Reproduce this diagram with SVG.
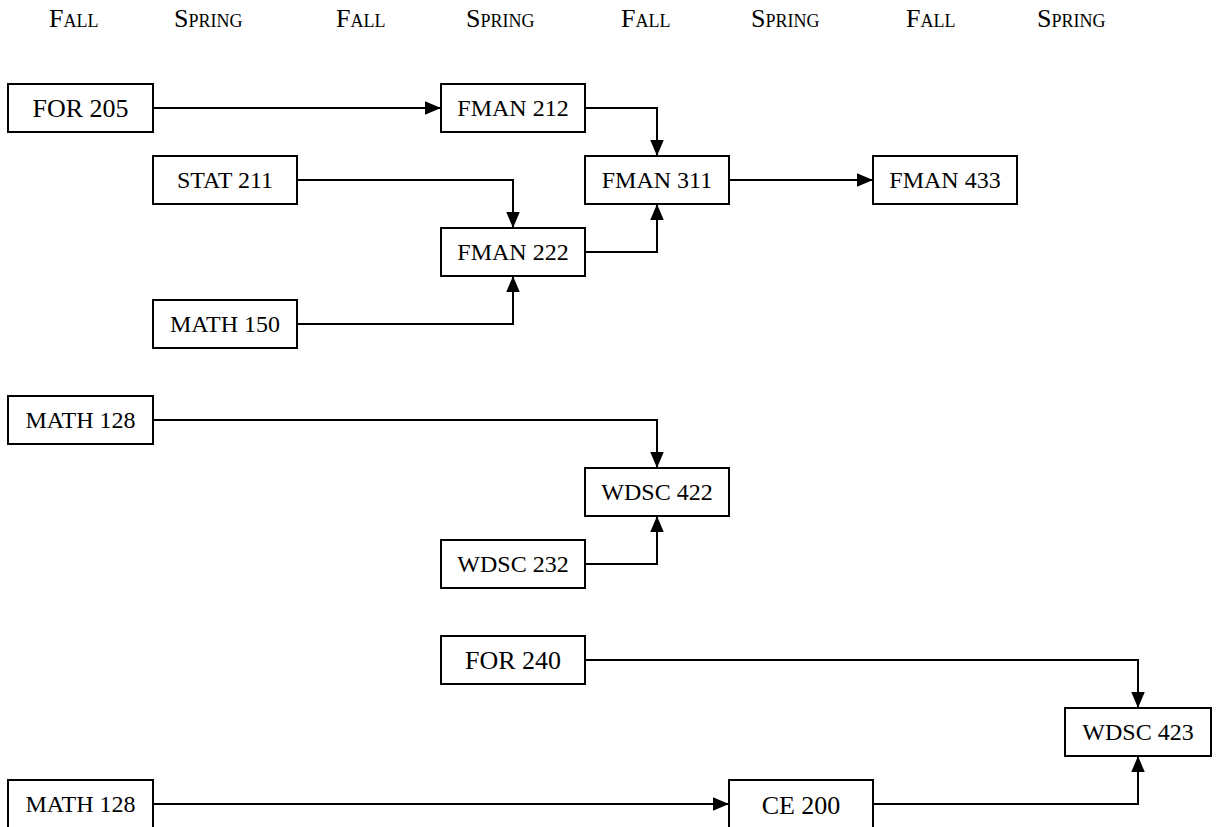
<svg xmlns="http://www.w3.org/2000/svg" width="1217" height="827" viewBox="0 0 1217 827">
<defs>
<style>
.hdr{font-family:"Liberation Serif","Times New Roman",serif;font-size:26px;font-variant:small-caps;fill:#000}
.box{fill:#fff;stroke:#000;stroke-width:2}
.lbl{font-family:"Liberation Serif","Times New Roman",serif;font-size:24px;fill:#000;text-anchor:middle}
.big{font-size:26px}
.con{fill:none;stroke:#000;stroke-width:2;marker-end:url(#ah)}
</style>
<marker id="ah" markerUnits="userSpaceOnUse" markerWidth="16" markerHeight="14" refX="16" refY="6.75" orient="auto">
<path d="M0,0 L16,6.75 L0,13.5 z" fill="#000"/>
</marker>
</defs>
<rect width="1217" height="827" fill="#fff"/>
<g id="headers">
<text class="hdr" x="49" y="27">Fall</text>
<text class="hdr" x="174" y="27">Spring</text>
<text class="hdr" x="336" y="27">Fall</text>
<text class="hdr" x="466" y="27">Spring</text>
<text class="hdr" x="621" y="27">Fall</text>
<text class="hdr" x="751" y="27">Spring</text>
<text class="hdr" x="906" y="27">Fall</text>
<text class="hdr" x="1037" y="27">Spring</text>
</g>
<g id="connectors">
<path class="con" d="M153,108 H441"/>
<path class="con" d="M585,108 H657 V156"/>
<path class="con" d="M297,180 H513 V228"/>
<path class="con" d="M585,252 H657 V204"/>
<path class="con" d="M297,324 H513 V276"/>
<path class="con" d="M729,180 H873"/>
<path class="con" d="M153,420 H657 V468"/>
<path class="con" d="M585,564 H657 V516"/>
<path class="con" d="M585,660 H1138 V708"/>
<path class="con" d="M153,804 H729"/>
<path class="con" d="M873,804 H1138 V756"/>
</g>
<g id="for205"><rect class="box" x="8" y="84" width="145" height="48"/><text class="lbl big" x="80.5" y="117">FOR 205</text></g>
<g id="fman212"><rect class="box" x="441" y="84" width="144" height="48"/><text class="lbl" x="513" y="116">FMAN 212</text></g>
<g id="stat211"><rect class="box" x="153" y="156" width="144" height="48"/><text class="lbl" x="225" y="188">STAT 211</text></g>
<g id="fman311"><rect class="box" x="585" y="156" width="144" height="48"/><text class="lbl" x="657" y="188">FMAN 311</text></g>
<g id="fman433"><rect class="box" x="873" y="156" width="144" height="48"/><text class="lbl" x="945" y="188">FMAN 433</text></g>
<g id="fman222"><rect class="box" x="441" y="228" width="144" height="48"/><text class="lbl" x="513" y="260">FMAN 222</text></g>
<g id="math150"><rect class="box" x="153" y="300" width="144" height="48"/><text class="lbl" x="225" y="332">MATH 150</text></g>
<g id="math128a"><rect class="box" x="8" y="396" width="145" height="48"/><text class="lbl" x="80.5" y="428">MATH 128</text></g>
<g id="wdsc422"><rect class="box" x="585" y="468" width="144" height="48"/><text class="lbl" x="657" y="500">WDSC 422</text></g>
<g id="wdsc232"><rect class="box" x="441" y="540" width="144" height="48"/><text class="lbl" x="513" y="572">WDSC 232</text></g>
<g id="for240"><rect class="box" x="441" y="636" width="144" height="48"/><text class="lbl big" x="513" y="669">FOR 240</text></g>
<g id="wdsc423"><rect class="box" x="1065" y="708" width="146" height="48"/><text class="lbl" x="1138" y="740">WDSC 423</text></g>
<g id="math128b"><rect class="box" x="8" y="780" width="145" height="60"/><text class="lbl" x="80.5" y="812">MATH 128</text></g>
<g id="ce200"><rect class="box" x="729" y="780" width="144" height="60"/><text class="lbl big" x="801" y="814">CE 200</text></g>
</svg>
